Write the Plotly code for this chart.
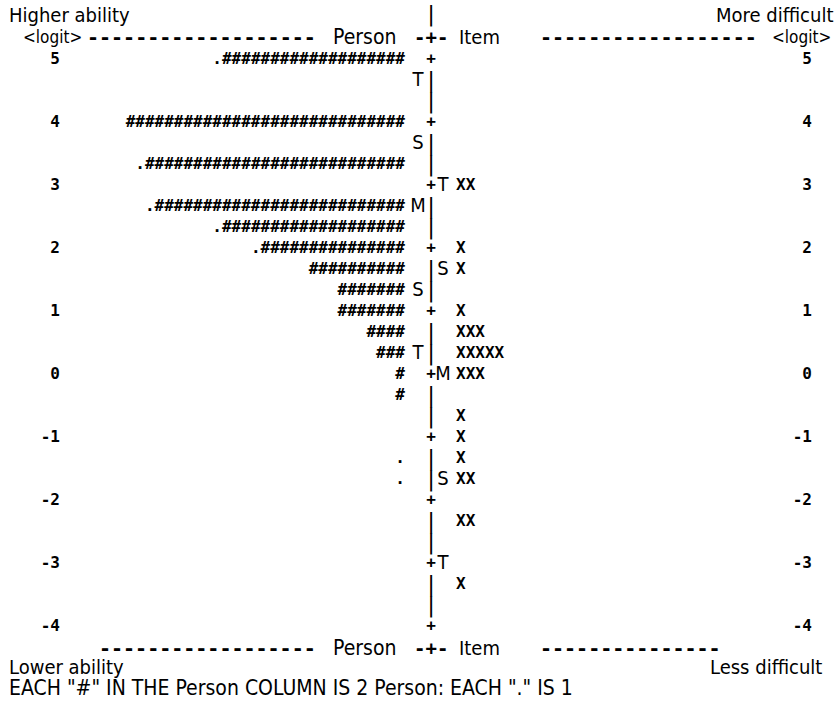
import plotly.graph_objects as go

# ---------------- data (rows run from logit 5 down to logit -4, 3 rows per logit) ----------
TOP_LOGIT = 5
ROWS_PER_LOGIT = 3
logit_ticks = [5, 4, 3, 2, 1, 0, -1, -2, -3, -4]

# number of '#' (2 persons each) and '.' (1 person) per row
person_hash = [19, 0, 0, 29, 0, 27, 0, 26, 19, 15, 10, 7, 7, 4, 3, 1, 1, 0, 0, 0,
               0, 0, 0, 0, 0, 0, 0, 0]
person_dot = [1, 0, 0, 0, 0, 1, 0, 1, 1, 1, 0, 0, 0, 0, 0, 0, 0, 0, 0, 1,
              1, 0, 0, 0, 0, 0, 0, 0]
# number of items ('X') per row
item_x = [0, 0, 0, 0, 0, 0, 2, 0, 0, 1, 1, 0, 1, 3, 5, 3, 0, 1, 1, 1,
          2, 0, 2, 0, 0, 1, 0, 0]
# M / S / T markers for persons (left of the ruler) and items (right of the ruler)
person_mark = ["", "T", "", "", "S", "", "", "M", "", "", "", "S", "", "", "T", "", "", "",
               "", "", "", "", "", "", "", "", "", ""]
item_mark = ["", "", "", "", "", "", "T", "", "", "", "S", "", "", "", "", "M", "", "",
             "", "", "S", "", "", "", "T", "", "", ""]

top_left, top_right = "Higher ability", "More difficult"
bot_left, bot_right = "Lower ability", "Less difficult"
col_person, col_item, unit = "Person", "Item", "<logit>"
footnote = 'EACH "#" IN THE Person COLUMN IS 2 Person: EACH "." IS 1'

# ---------------- layout constants (page pixels) ----------------
W, H = 836, 704
CENTER_X = 431
PERSON_RIGHT = 405
PMARK_X = 418
IMARK_X = 443
ITEM_LEFT = 456
PX_PER_LOGIT = 63.0
ROW5_PX, ROWM4_PX = 60, 627
Y_TOP = TOP_LOGIT + ROW5_PX / PX_PER_LOGIT
Y_BOT = -4 - (H - ROWM4_PX) / PX_PER_LOGIT


def px_to_logit(p):
    return TOP_LOGIT - (p - ROW5_PX) / PX_PER_LOGIT


MONO = "DejaVu Sans Mono"
WORD = "DejaVu Sans Condensed, DejaVu Sans"
INK = "black"
MONO_FONT = dict(family=MONO, size=16, color=INK, weight="bold")
WORD_FONT = dict(family=WORD, size=20, color=INK)

n = len(person_hash)
row_y = [TOP_LOGIT - r / ROWS_PER_LOGIT for r in range(n)]

fig = go.Figure()


def text_trace(xs, ys, texts, pos, font):
    fig.add_trace(go.Scatter(x=xs, y=ys, mode="text", text=texts, textposition=pos,
                             textfont=font, hoverinfo="skip", showlegend=False,
                             cliponaxis=False))


# persons
text_trace([PERSON_RIGHT] * n, row_y,
           ["." * d + "#" * h for d, h in zip(person_dot, person_hash)],
           "middle left", MONO_FONT)
# items
text_trace([ITEM_LEFT] * n, row_y, ["X" * k for k in item_x], "middle right", MONO_FONT)
# M/S/T markers
text_trace([PMARK_X] * n, row_y, person_mark, "middle center", WORD_FONT)
text_trace([IMARK_X] * n, row_y, item_mark, "middle center", WORD_FONT)

# central ruler: '+' on whole logits, '|' elsewhere (plus the title row)
title_y = px_to_logit(15)
bar_y = [title_y] + [y for r, y in enumerate(row_y) if r % ROWS_PER_LOGIT]
plus_y = [y for r, y in enumerate(row_y) if r % ROWS_PER_LOGIT == 0]
text_trace([CENTER_X] * len(bar_y), bar_y, ["|"] * len(bar_y), "middle center",
           dict(family=MONO, size=22, color=INK))
text_trace([CENTER_X] * len(plus_y), plus_y, ["+"] * len(plus_y), "middle center", MONO_FONT)

# logit labels on both sides
labels = [str(v) for v in logit_ticks]
text_trace([60] * len(logit_ticks), logit_ticks, labels, "middle left", MONO_FONT)
text_trace([812] * len(logit_ticks), logit_ticks, labels, "middle left", MONO_FONT)


def ann(text, x, y, anchor="left", font=None):
    fig.add_annotation(text=text, x=x, y=y, xref="x", yref="y", xanchor=anchor,
                       yanchor="middle", showarrow=False, borderpad=0,
                       font=font or WORD_FONT)


DASH_FONT = dict(family=MONO, size=20, color=INK, weight="bold")
UNIT_FONT = dict(family=WORD, size=17, color=INK)
head_y = px_to_logit(37)
foot_y = px_to_logit(648)

ann(top_left, 8, title_y)
ann(top_right, 834, title_y, "right")

ann(unit, 22, head_y, "left", UNIT_FONT)
ann(unit, 832, head_y, "right", UNIT_FONT)
for yy, ldash, rdash in ((head_y, 19, 18), (foot_y, 18, 15)):
    ann("-" * ldash, 317, yy, "right", DASH_FONT)
    ann(col_person, 397, yy, "right", dict(family=WORD, size=21, color=INK))
    ann("-+-", CENTER_X, yy, "center", dict(family=MONO, size=19, color=INK, weight="bold"))
    ann(col_item, 458, yy)
    ann("-" * rdash, 539, yy, "left", DASH_FONT)

ann(bot_left, 8, px_to_logit(667))
ann(bot_right, 823, px_to_logit(667), "right")
ann(footnote, 8, px_to_logit(688), "left", dict(family=WORD, size=21, color=INK))

fig.update_layout(
    width=W, height=H, margin=dict(l=0, r=0, t=0, b=0),
    paper_bgcolor="white", plot_bgcolor="white",
    xaxis=dict(range=[0, W], visible=False, fixedrange=True),
    yaxis=dict(range=[Y_BOT, Y_TOP], visible=False, fixedrange=True),
    showlegend=False,
)

fig.write_html("out.html", config={"displayModeBar": False, "staticPlot": True},
               post_script="document.body.style.margin='0px';"
                           "document.body.style.overflow='hidden';")
